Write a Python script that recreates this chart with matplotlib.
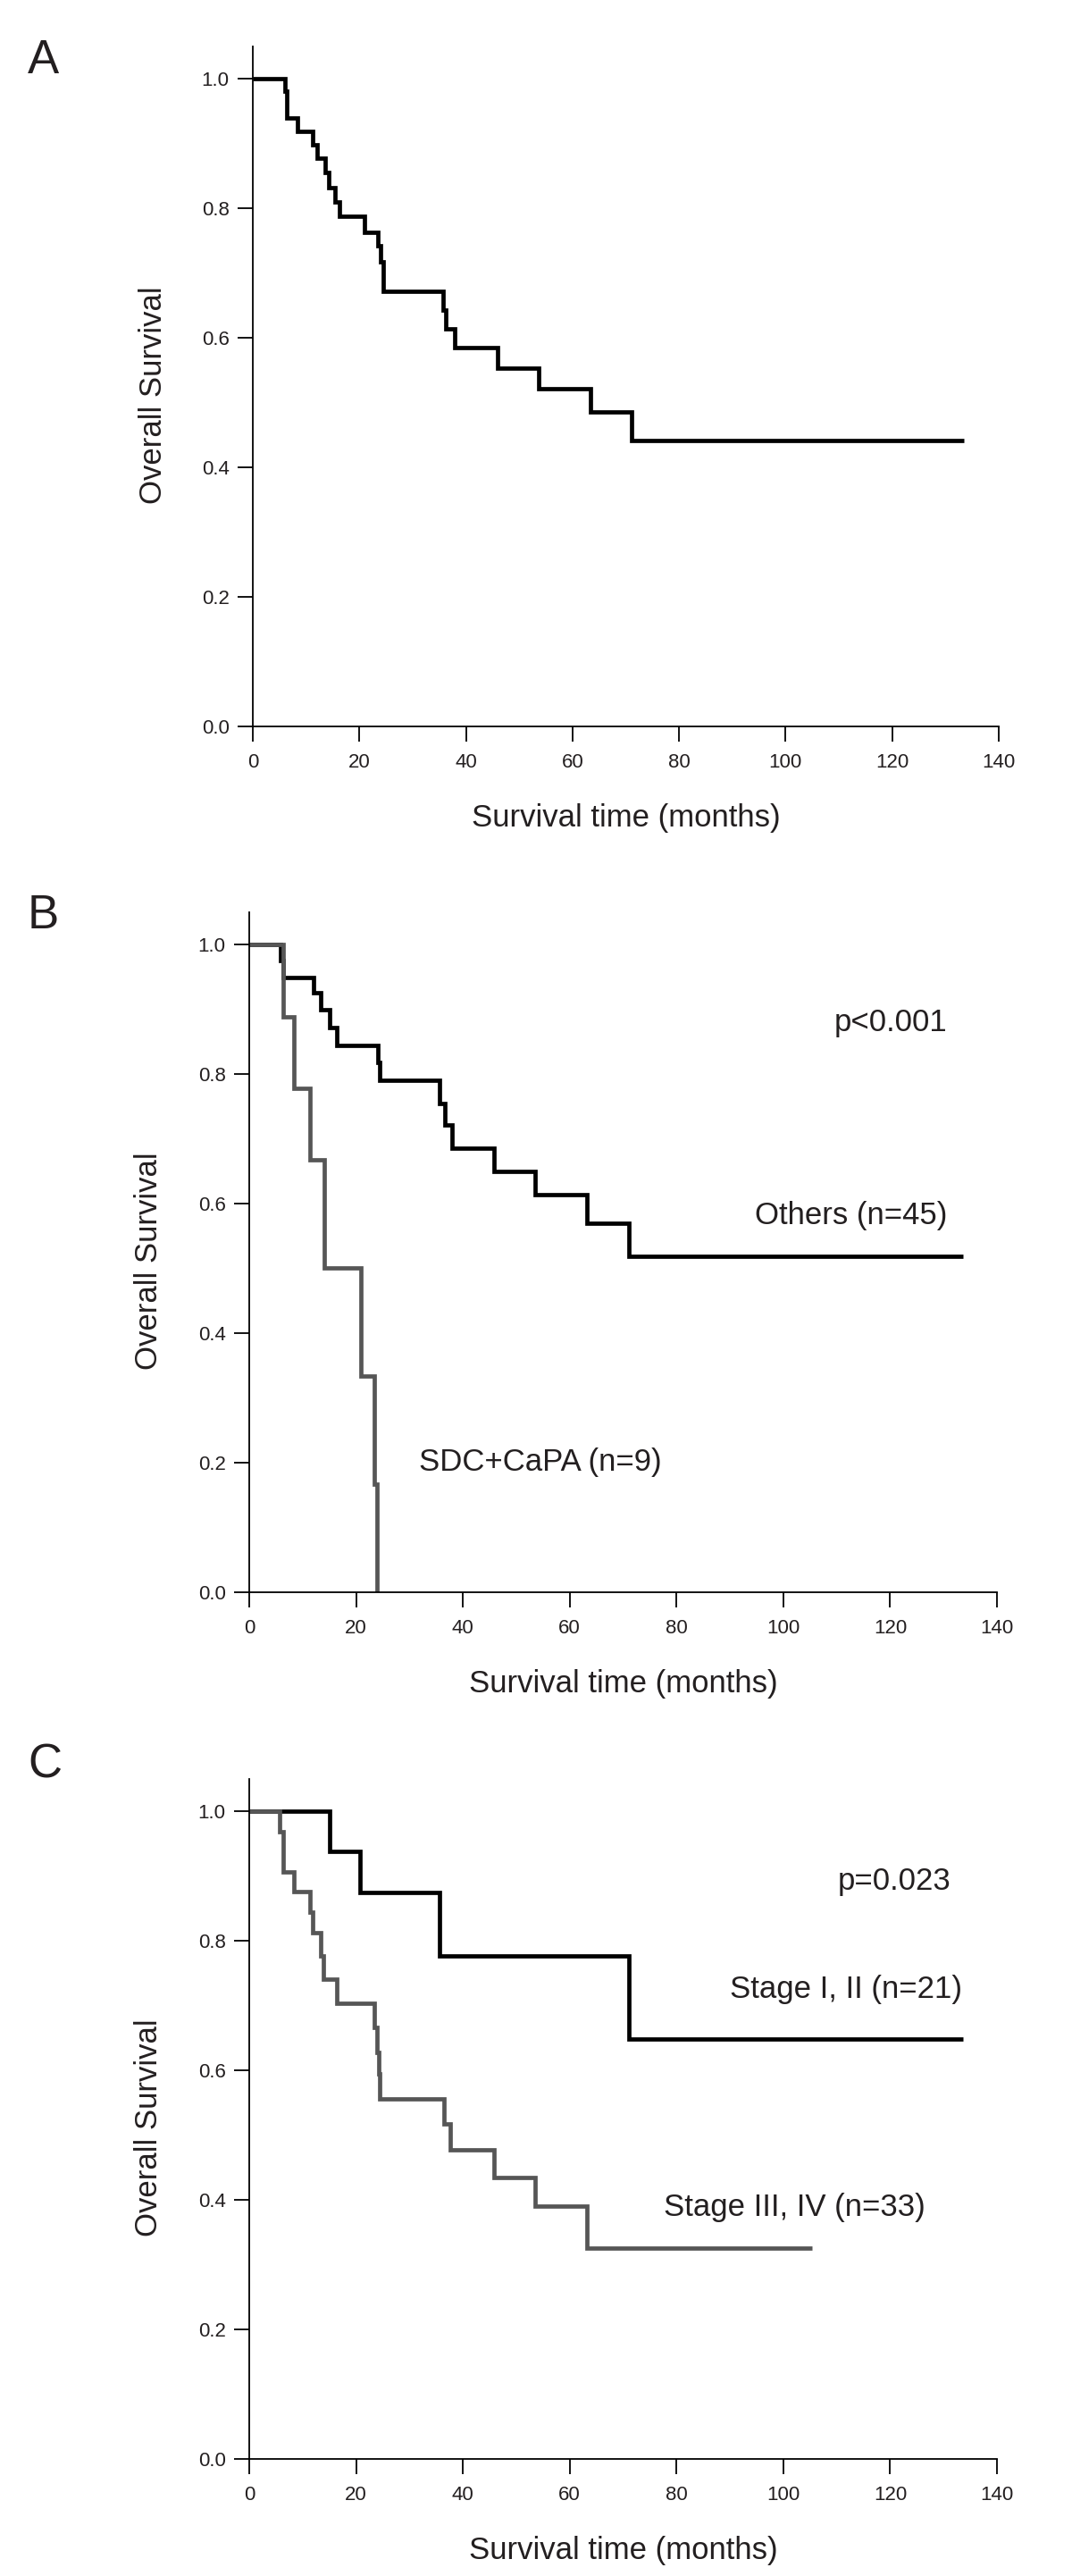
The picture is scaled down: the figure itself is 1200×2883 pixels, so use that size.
import matplotlib
matplotlib.use("Agg")
import matplotlib.pyplot as plt

# panel A - all patients
a_times = [6.0, 6.4, 8.4, 11.3, 12.1, 13.6, 14.2, 15.4, 16.3, 20.9, 23.5, 24.0, 24.5,
           35.7, 36.3, 37.9, 45.9, 53.6, 63.4, 71.1]
a_surv = [0.981, 0.939, 0.919, 0.898, 0.877, 0.855, 0.831, 0.810, 0.787, 0.763, 0.742,
          0.717, 0.671, 0.643, 0.613, 0.584, 0.553, 0.521, 0.485, 0.441]
a_end = 133.4

# panel B - histology
b_others_times = [5.8, 6.3, 12.0, 13.4, 15.1, 16.4, 24.1, 24.5, 35.7, 36.6, 37.9, 45.8,
                  53.6, 63.3, 71.1]
b_others_surv = [0.975, 0.949, 0.925, 0.899, 0.872, 0.844, 0.818, 0.790, 0.755, 0.721,
                 0.686, 0.650, 0.614, 0.570, 0.518]
b_others_end = 133.6
b_sdc_times = [6.3, 8.4, 11.3, 14.0, 20.9, 23.45, 24.0]
b_sdc_surv = [0.889, 0.778, 0.667, 0.500, 0.333, 0.167, 0.0]
b_sdc_end = 24.0

# panel C - stage
c_early_times = [15.1, 20.8, 35.6, 71.1]
c_early_surv = [0.938, 0.875, 0.777, 0.648]
c_early_end = 133.6
c_late_times = [5.75, 6.3, 8.4, 11.3, 11.9, 13.3, 13.85, 16.4, 23.5, 23.9, 24.2, 24.5,
                36.5, 37.6, 45.8, 53.6, 63.2]
c_late_surv = [0.969, 0.907, 0.876, 0.844, 0.813, 0.777, 0.741, 0.704, 0.667, 0.628,
               0.594, 0.556, 0.517, 0.477, 0.434, 0.390, 0.325]
c_late_end = 105.4

panel_letters = ["A", "B", "C"]
x_ticks = [0, 20, 40, 60, 80, 100, 120, 140]
y_ticks = [0.0, 0.2, 0.4, 0.6, 0.8, 1.0]

TXT = "#231f20"
BLACK = "#000000"
GREY = "#565656"
LW = 3.4

plt.rcParams['font.family'] = ['Liberation Sans', 'DejaVu Sans']

fig = plt.figure(figsize=(12, 28.83), dpi=100)

ax_a = fig.add_axes([0.2358, 0.7181, 0.6958, 0.2640])
ax_b = fig.add_axes([0.2325, 0.3820, 0.6975, 0.2639])
ax_c = fig.add_axes([0.2325, 0.04554, 0.6975, 0.2638])


def km_line(ax, times, surv, end, color):
    # step curve starting at 1.0, carried out to the last follow-up
    xs = [0] + list(times) + [end]
    ys = [1.0] + list(surv) + [surv[-1]]
    ax.step(xs, ys, where='post', color=color, lw=LW,
            solid_capstyle='butt', solid_joinstyle='miter')


def style_axes(ax):
    ax.set_xlim(0, 140)
    ax.set_ylim(0, 1.05)
    ax.spines['top'].set_visible(False)
    ax.spines['right'].set_visible(False)
    for s in ['left', 'bottom']:
        ax.spines[s].set_linewidth(1.3)
        ax.spines[s].set_color(BLACK)
    ax.set_xticks(x_ticks)
    ax.set_yticks(y_ticks)
    ax.set_yticklabels(["%.1f" % v for v in y_ticks])
    ax.tick_params(axis='both', direction='out', length=12, width=1.3,
                   labelsize=16, labelcolor=TXT)
    ax.tick_params(axis='y', pad=7)
    ax.tick_params(axis='x', pad=10)
    ax.set_xlabel("Survival time (months)", fontsize=25, color=TXT, labelpad=25)
    ax.text(-0.134, 0.487, "Overall Survival", transform=ax.transAxes,
            rotation=90, ha='center', va='center', fontsize=25, color=TXT)


for ax in [ax_a, ax_b, ax_c]:
    style_axes(ax)

km_line(ax_a, a_times, a_surv, a_end, BLACK)

km_line(ax_b, b_others_times, b_others_surv, b_others_end, BLACK)
km_line(ax_b, b_sdc_times, b_sdc_surv, b_sdc_end, GREY)
ax_b.text(130.7, 0.866, "p<0.001", ha='right', va='baseline', fontsize=25, color=TXT)
ax_b.text(130.7, 0.568, "Others (n=45)", ha='right', va='baseline', fontsize=25, color=TXT)
ax_b.text(31.7, 0.187, "SDC+CaPA (n=9)", ha='left', va='baseline', fontsize=25, color=TXT)

km_line(ax_c, c_early_times, c_early_surv, c_early_end, BLACK)
km_line(ax_c, c_late_times, c_late_surv, c_late_end, GREY)
ax_c.text(131.3, 0.879, "p=0.023", ha='right', va='baseline', fontsize=25, color=TXT)
ax_c.text(133.5, 0.712, "Stage I, II (n=21)", ha='right', va='baseline', fontsize=25, color=TXT)
ax_c.text(77.6, 0.375, "Stage III, IV (n=33)", ha='left', va='baseline', fontsize=25, color=TXT)

# panel letters (figure pixel positions of baselines)
letter_y = [82, 1039, 1990]
for lab, yb in zip(panel_letters, letter_y):
    fig.text(31 / 1200, 1 - yb / 2883, lab, fontsize=38, color=TXT, va='baseline')

fig.savefig("out.png", dpi=100, facecolor='white')
